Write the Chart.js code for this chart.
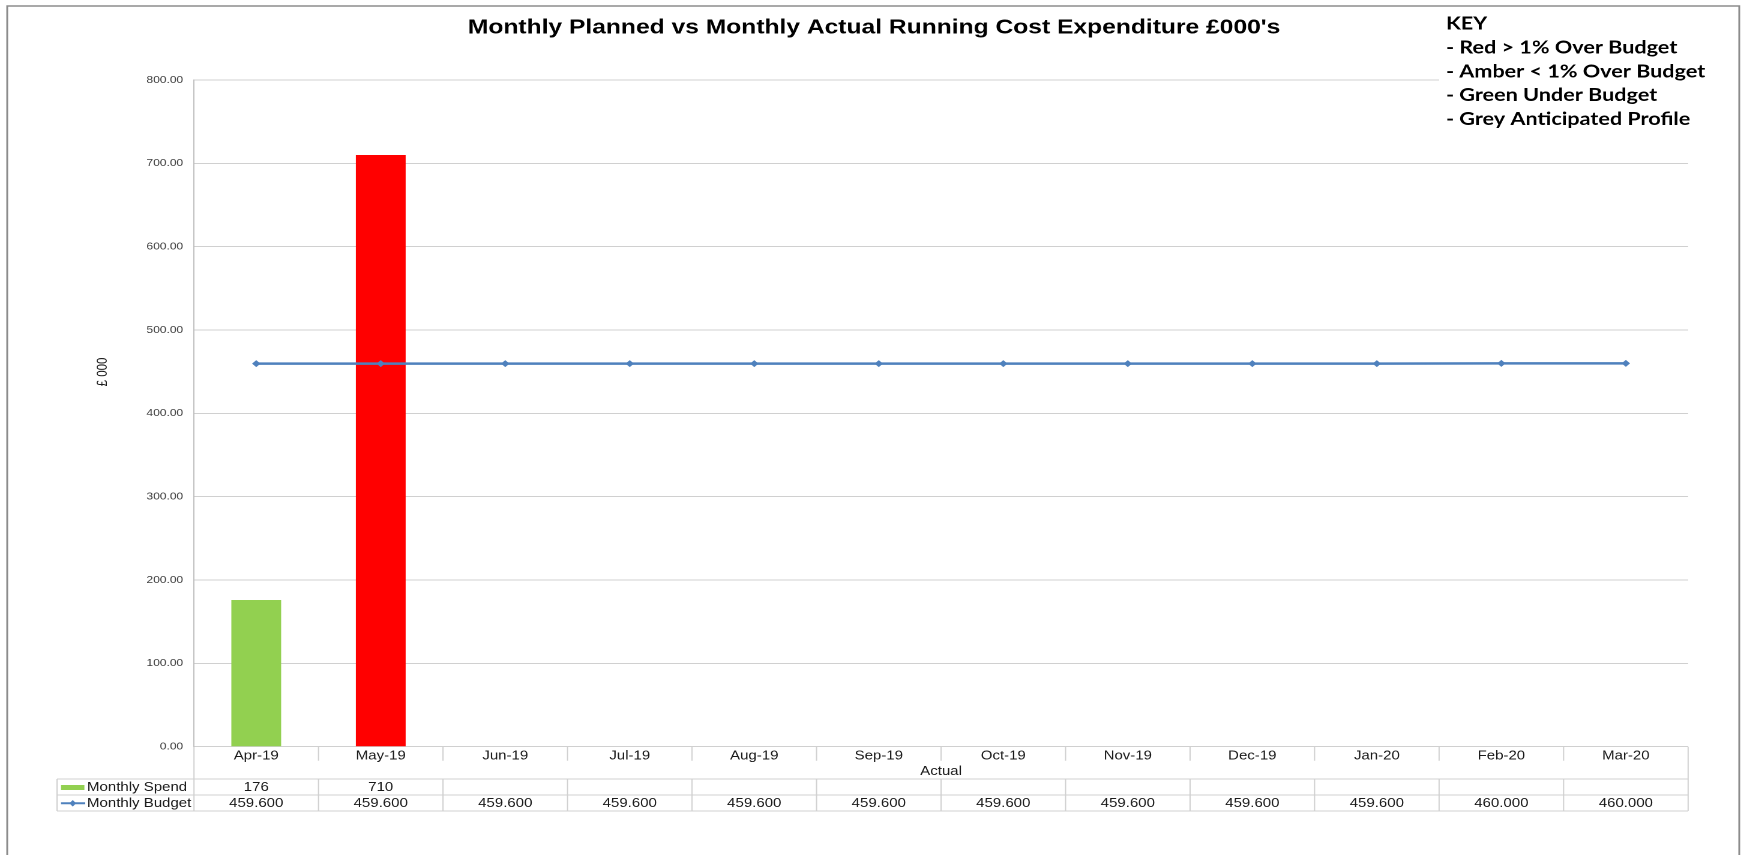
<!DOCTYPE html>
<html>
<head>
<meta charset="utf-8">
<script src="https://cdn.jsdelivr.net/npm/chart.js@4.4.1/dist/chart.umd.min.js"></script>
<style>
  html, body { margin: 0; padding: 0; background: #fff; overflow: hidden; }
  /* the source picture is stretched sideways, so the canvas is too */
  #chart { display: block; transform: scale(1.2003, 1); transform-origin: 0 0; }
</style>
</head>
<body>
<canvas id="chart" width="1453" height="855"></canvas>
<script>
const months = ['Apr-19', 'May-19', 'Jun-19', 'Jul-19', 'Aug-19', 'Sep-19', 'Oct-19', 'Nov-19', 'Dec-19', 'Jan-20', 'Feb-20', 'Mar-20'];
const monthlySpend = [176, 710, null, null, null, null, null, null, null, null, null, null];
const monthlyBudget = [459.6, 459.6, 459.6, 459.6, 459.6, 459.6, 459.6, 459.6, 459.6, 459.6, 460.0, 460.0];
const yTicks = [0, 100, 200, 300, 400, 500, 600, 700, 800];

const chartTitle = "Monthly Planned vs Monthly Actual Running Cost Expenditure £000's";
const keyLines = ['KEY', '- Red > 1% Over Budget', '- Amber < 1% Over Budget', '- Green Under Budget', '- Grey Anticipated Profile'];
const xAxisTitle = 'Actual';
const yAxisTitle = '£ 000';
const spendLabel = 'Monthly Spend';
const budgetLabel = 'Monthly Budget';

const W = 1453, H = 855;
const GREEN = '#92D050', RED = '#FF0000', AMBER = '#FFC000', GREY = '#A6A6A6', BLUE = '#4F81BD';
const LINE_GREY = '#d0d0d0';
const FONT = 'Liberation Sans, Arial, sans-serif';

function spendColour(spend, budget) {
    if (spend == null) return GREY;
    const over = (spend - budget) / budget;
    if (over > 0.01) return RED;
    if (over > 0) return AMBER;
    return GREEN;
}

const barColours = monthlySpend.map((v, i) => spendColour(v, monthlyBudget[i]));

const tableRows = { top: 779, mid: 795, bottom: 811, left: 47.5 };

const extrasPlugin = {
    id: 'extras',
    afterDraw(chart) {
        const ctx = chart.ctx;
        const x = chart.scales.x;
        const area = chart.chartArea;
        const n = months.length;
        const edge = i => x.getPixelForValue(i - 0.5);

        ctx.save();
        ctx.strokeStyle = LINE_GREY;
        ctx.lineWidth = 1;
        ctx.beginPath();
        // tick marks under the axis
        for (let i = 1; i < n; i++) {
            ctx.moveTo(edge(i), area.bottom);
            ctx.lineTo(edge(i), area.bottom + 14);
        }
        // axis sides running down into the table
        ctx.moveTo(x.left, area.bottom);
        ctx.lineTo(x.left, tableRows.bottom);
        ctx.moveTo(x.right, area.bottom);
        ctx.lineTo(x.right, tableRows.bottom);
        // table rows
        [tableRows.top, tableRows.mid, tableRows.bottom].forEach(y => {
            ctx.moveTo(tableRows.left, y);
            ctx.lineTo(x.right, y);
        });
        ctx.moveTo(tableRows.left, tableRows.top);
        ctx.lineTo(tableRows.left, tableRows.bottom);
        for (let i = 1; i < n; i++) {
            ctx.moveTo(edge(i), tableRows.top);
            ctx.lineTo(edge(i), tableRows.bottom);
        }
        ctx.stroke();

        // table text
        ctx.fillStyle = '#1a1a1a';
        ctx.font = '12.5px ' + FONT;
        ctx.textBaseline = 'middle';
        ctx.textAlign = 'center';
        const spendY = (tableRows.top + tableRows.mid) / 2 + 0.5;
        const budgetY = (tableRows.mid + tableRows.bottom) / 2 + 0.5;
        for (let i = 0; i < n; i++) {
            const cx = x.getPixelForValue(i);
            if (monthlySpend[i] != null) ctx.fillText(String(monthlySpend[i]), cx, spendY);
            ctx.fillText(monthlyBudget[i].toFixed(3), cx, budgetY);
        }
        ctx.fillText(xAxisTitle, (x.left + x.right) / 2, 771.7);

        ctx.textAlign = 'left';
        ctx.fillText(spendLabel, 72.5, spendY);
        ctx.fillText(budgetLabel, 72.5, budgetY);
        ctx.fillStyle = GREEN;
        ctx.fillRect(50.8, 785, 19.5, 5);
        ctx.strokeStyle = BLUE;
        ctx.lineWidth = 2;
        ctx.beginPath();
        ctx.moveTo(50.8, 803.3);
        ctx.lineTo(71, 803.3);
        ctx.stroke();
        ctx.fillStyle = BLUE;
        ctx.beginPath();
        ctx.moveTo(60.6, 800);
        ctx.lineTo(63.4, 803.3);
        ctx.lineTo(60.6, 806.6);
        ctx.lineTo(57.8, 803.3);
        ctx.closePath();
        ctx.fill();

        // y axis title
        ctx.save();
        ctx.translate(86, 372);
        ctx.rotate(-Math.PI / 2);
        ctx.fillStyle = '#1a1a1a';
        ctx.font = '11.5px ' + FONT;
        ctx.textAlign = 'center';
        ctx.textBaseline = 'middle';
        ctx.fillText(yAxisTitle, 0, 0);
        ctx.restore();

        // title
        ctx.fillStyle = '#000';
        ctx.font = 'bold 20.5px ' + FONT;
        ctx.textAlign = 'center';
        ctx.textBaseline = 'alphabetic';
        ctx.fillText(chartTitle, 728.2, 33.5);

        // key box
        ctx.fillStyle = '#fff';
        ctx.fillRect(1199, 8, 245, 124);
        ctx.fillStyle = '#000';
        ctx.font = 'bold 18px Lato, sans-serif';
        ctx.textAlign = 'left';
        keyLines.forEach((t, i) => ctx.fillText(t, 1204.7, 29.5 + i * 23.9));

        // outer frame
        ctx.strokeStyle = '#8c8c8c';
        ctx.lineWidth = 1.5;
        ctx.strokeRect(6, 6, 1443, 900);
        ctx.restore();
    }
};

new Chart(document.getElementById('chart'), {
    data: {
        labels: months,
        datasets: [
            {
                type: 'line',
                label: budgetLabel,
                data: monthlyBudget,
                borderColor: BLUE,
                backgroundColor: BLUE,
                borderWidth: 2.5,
                pointStyle: 'rectRot',
                pointRadius: 3.5,
                pointBorderWidth: 0,
                order: 0
            },
            {
                type: 'bar',
                label: spendLabel,
                data: monthlySpend,
                backgroundColor: barColours,
                barPercentage: 0.4,
                categoryPercentage: 1,
                order: 1
            }
        ]
    },
    options: {
        responsive: false,
        animation: false,
        devicePixelRatio: 2,
        layout: {
            padding: { top: 80, right: W - 1406.4, left: 0, bottom: 0 }
        },
        plugins: {
            legend: { display: false },
            tooltip: { enabled: false },
            title: { display: false }
        },
        scales: {
            x: {
                grid: { display: false, drawTicks: false },
                border: { display: false },
                ticks: {
                    padding: 2,
                    color: '#1a1a1a',
                    maxRotation: 0,
                    autoSkip: false,
                    font: { family: FONT, size: 12.5 }
                },
                afterFit: s => { s.height = H - 746.7; }
            },
            y: {
                min: yTicks[0],
                max: yTicks[yTicks.length - 1],
                ticks: {
                    stepSize: yTicks[1] - yTicks[0],
                    padding: 9,
                    color: '#404040',
                    font: { family: FONT, size: 10 },
                    callback: v => Number(v).toFixed(2)
                },
                grid: { color: LINE_GREY, drawTicks: false },
                border: { color: '#bfbfbf' },
                afterFit: s => { s.width = 161.6; }
            }
        }
    },
    plugins: [extrasPlugin]
});
</script>
</body>
</html>
